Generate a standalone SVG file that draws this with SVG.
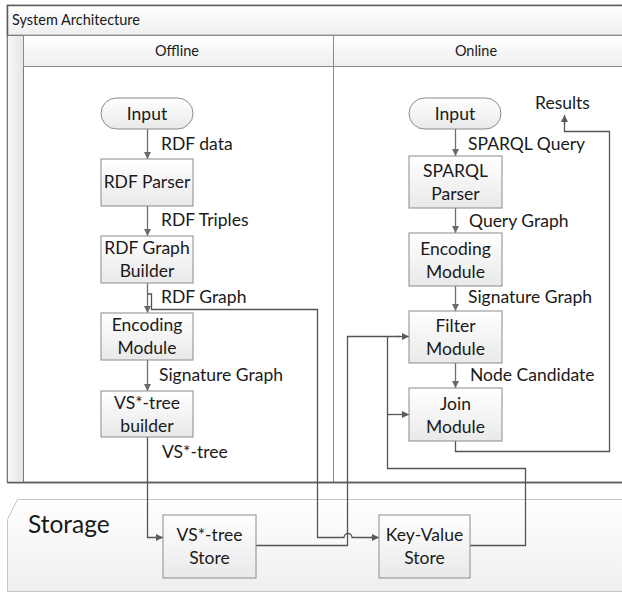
<svg xmlns="http://www.w3.org/2000/svg" width="622" height="592" viewBox="0 0 622 592">
<defs>
  <linearGradient id="boxg" x1="0" y1="0" x2="0" y2="1">
    <stop offset="0" stop-color="#ffffff"/>
    <stop offset="1" stop-color="#e9e9e9"/>
  </linearGradient>
  <linearGradient id="barg" x1="0" y1="0" x2="0" y2="1">
    <stop offset="0" stop-color="#ffffff"/>
    <stop offset="1" stop-color="#eeeeee"/>
  </linearGradient>
  <linearGradient id="stripg" x1="0" y1="0" x2="1" y2="0">
    <stop offset="0" stop-color="#f7f7f7"/>
    <stop offset="1" stop-color="#e6e6e6"/>
  </linearGradient>
  <linearGradient id="storg" x1="0" y1="0" x2="0" y2="1">
    <stop offset="0" stop-color="#ffffff"/>
    <stop offset="1" stop-color="#efefef"/>
  </linearGradient>
  <marker id="arr" viewBox="0 0 10 10" refX="10" refY="5" markerWidth="7" markerHeight="7" markerUnits="userSpaceOnUse" orient="auto">
    <path d="M0,0 L10,5 L0,10 z" fill="#6a6a6a"/>
  </marker>
  <marker id="arrd" viewBox="0 0 10 10" refX="10" refY="5" markerWidth="7" markerHeight="7" markerUnits="userSpaceOnUse" orient="auto">
    <path d="M0,0 L10,5 L0,10 z" fill="#5a5a5a"/>
  </marker>
</defs>
<style>
  text { font-family: Lato, "Liberation Sans", sans-serif; fill: #1a1a1a; }
  .node rect { fill: url(#boxg); stroke: #8a8a8a; stroke-width: 1; }
  .nt { font-size: 17.5px; text-anchor: middle; }
  .lbl { font-size: 17.5px; }
  .hdr { font-size: 14.5px; }
  .conn path { fill: none; stroke: #6f6f6f; stroke-width: 1.3; }
  .conn path.a { marker-end: url(#arr); }
  .conn path.d { stroke: #555555; }
  .conn path.da { stroke: #555555; marker-end: url(#arrd); }
</style>

<!-- Frame / swimlanes -->
<g id="frame">
  <rect x="7.5" y="5.5" width="630" height="477" fill="#ffffff" stroke="#5e5e5e" stroke-width="1.5"/>
  <rect x="7.5" y="5.5" width="630" height="30" fill="url(#barg)" stroke="#5e5e5e" stroke-width="1.5"/>
  <text class="hdr" x="12" y="25">System Architecture</text>
  <rect x="7.5" y="35.5" width="16" height="447" fill="url(#stripg)" stroke="#7a7a7a" stroke-width="1"/>
  <rect x="23.5" y="35.5" width="310" height="31" fill="url(#barg)" stroke="#8a8a8a" stroke-width="1"/>
  <rect x="333.5" y="35.5" width="300" height="31" fill="url(#barg)" stroke="#8a8a8a" stroke-width="1"/>
  <line x1="333.5" y1="66.5" x2="333.5" y2="482" stroke="#8a8a8a" stroke-width="1"/>
  <line x1="7.5" y1="482.5" x2="622" y2="482.5" stroke="#5e5e5e" stroke-width="1.5"/>
  <text class="hdr" x="177" y="56" text-anchor="middle">Offline</text>
  <text class="hdr" x="476" y="56" text-anchor="middle">Online</text>
</g>

<!-- Storage area -->
<g id="storage">
  <path d="M17.5,499.5 H630 V591.5 H7.5 V519.5 Z" fill="url(#storg)" stroke="#c4c4c4" stroke-width="1"/>
  <text x="28" y="533" style="font-size:24.5px">Storage</text>
</g>

<!-- Connectors -->
<g id="connectors" class="conn">
  <path class="a" d="M147.5,129 V159"/>
  <path class="a" d="M147.5,206 V236"/>
  <path class="a" d="M147.5,283 V313"/>
  <path class="d" d="M147.5,294 H151.5 V309.5 H317.5 V537.5 H344 A4,4 0 0 1 352,537.5 H372"/>
  <path class="da" d="M370,537.5 H379"/>
  <path class="a" d="M147.5,360 V391"/>
  <path class="da" d="M147.5,437 V537.5 H163"/>
  <path class="d" d="M256,545.5 H347.5 V336.5 H400"/>
  <path class="da" d="M398,336.5 H409"/>
  <path class="d" d="M470,545.5 H525.5 V468.5 H387.5 V336.5"/>
  <path class="da" d="M387.5,414.5 H409"/>
  <path class="a" d="M455.5,129 V156"/>
  <path class="a" d="M455.5,208 V233"/>
  <path class="a" d="M455.5,286 V311"/>
  <path class="a" d="M455.5,363 V388"/>
  <path class="d" d="M455.5,441 V451.5 H609.5 V131.5 H564.5 V122"/>
  <path class="da" d="M564.5,124 V115"/>
</g>

<!-- Offline nodes -->
<g id="off-input" class="node">
  <rect x="101" y="98" width="92" height="31" rx="15.5" ry="15.5"/>
  <text class="nt" x="147" y="120">Input</text>
</g>
<g id="rdf-parser" class="node">
  <rect x="101" y="159" width="92" height="47"/>
  <text class="nt" x="147" y="188">RDF Parser</text>
</g>
<g id="rdf-graph-builder" class="node">
  <rect x="101" y="236" width="92" height="47"/>
  <text class="nt" x="147" y="254">RDF Graph</text>
  <text class="nt" x="147" y="277">Builder</text>
</g>
<g id="off-encoding" class="node">
  <rect x="101" y="313" width="92" height="47"/>
  <text class="nt" x="147" y="331">Encoding</text>
  <text class="nt" x="147" y="354">Module</text>
</g>
<g id="vstree-builder" class="node">
  <rect x="101" y="391" width="92" height="46"/>
  <text class="nt" x="147" y="409">VS*-tree</text>
  <text class="nt" x="147" y="432">builder</text>
</g>

<!-- Online nodes -->
<g id="on-input" class="node">
  <rect x="409" y="98" width="92" height="31" rx="15.5" ry="15.5"/>
  <text class="nt" x="455" y="120">Input</text>
</g>
<g id="sparql-parser" class="node">
  <rect x="409" y="156" width="93" height="52"/>
  <text class="nt" x="455.5" y="177">SPARQL</text>
  <text class="nt" x="455.5" y="200">Parser</text>
</g>
<g id="on-encoding" class="node">
  <rect x="409" y="233" width="93" height="53"/>
  <text class="nt" x="455.5" y="255">Encoding</text>
  <text class="nt" x="455.5" y="278">Module</text>
</g>
<g id="filter-module" class="node">
  <rect x="409" y="311" width="93" height="52"/>
  <text class="nt" x="455.5" y="332">Filter</text>
  <text class="nt" x="455.5" y="355">Module</text>
</g>
<g id="join-module" class="node">
  <rect x="409" y="388" width="93" height="53"/>
  <text class="nt" x="455.5" y="410">Join</text>
  <text class="nt" x="455.5" y="433">Module</text>
</g>

<!-- Storage nodes -->
<g id="vstree-store" class="node">
  <rect x="163" y="515" width="93" height="63"/>
  <text class="nt" x="209.5" y="541">VS*-tree</text>
  <text class="nt" x="209.5" y="564">Store</text>
</g>
<g id="kv-store" class="node">
  <rect x="379" y="515" width="91" height="63"/>
  <text class="nt" x="424.5" y="541">Key-Value</text>
  <text class="nt" x="424.5" y="564">Store</text>
</g>

<!-- Edge labels -->
<g id="labels">
  <text class="lbl" x="161" y="150">RDF data</text>
  <text class="lbl" x="161" y="226">RDF Triples</text>
  <text class="lbl" x="161" y="303">RDF Graph</text>
  <text class="lbl" x="159" y="381">Signature Graph</text>
  <text class="lbl" x="162" y="458">VS*-tree</text>
  <text class="lbl" x="468" y="150">SPARQL Query</text>
  <text class="lbl" x="469" y="227">Query Graph</text>
  <text class="lbl" x="468" y="303">Signature Graph</text>
  <text class="lbl" x="470" y="381">Node Candidate</text>
  <text class="lbl" x="535" y="109">Results</text>
</g>
</svg>
